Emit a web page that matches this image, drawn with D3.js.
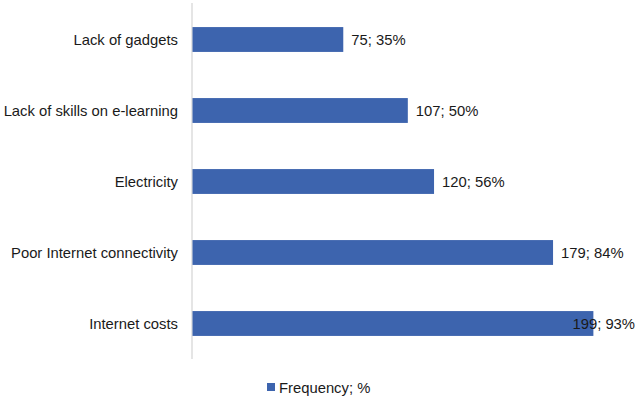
<!DOCTYPE html>
<html>
<head>
<meta charset="utf-8">
<script src="https://cdn.jsdelivr.net/npm/d3@7/dist/d3.min.js"></script>
<style>
  body { margin: 0; background: #fff; }
  svg { display: block; font-family: "Liberation Sans", Arial, sans-serif; }
</style>
</head>
<body>
<svg id="chart" width="639" height="400"></svg>
<script>
const categories = ["Lack of gadgets", "Lack of skills on e-learning", "Electricity", "Poor Internet connectivity", "Internet costs"];
const frequency = [75, 107, 120, 179, 199];
const percent = [35, 50, 56, 84, 93];
const seriesName = "Frequency; %";

const W = 639, H = 400;
const svg = d3.select("#chart");
const barColor = "#3d64ae";
const textColor = "#1a1a1a";
const fs = "14.8px";

const x = d3.scaleLinear().domain([0, 220]).range([192, 192 + 220 * 2.017]);
const y = d3.scaleBand().domain(categories).range([4, 359]).paddingInner(0.65).paddingOuter(0.325);

// axis line
svg.append("line")
  .attr("x1", x(0)).attr("x2", x(0))
  .attr("y1", 3).attr("y2", 359)
  .attr("stroke", "#d4d4d4").attr("stroke-width", 1.2);

const data = categories.map((c, i) => ({ c, v: frequency[i], p: percent[i] }));

svg.selectAll("rect.bar").data(data).enter().append("rect")
  .attr("class", "bar")
  .attr("x", x(0) + 0.5)
  .attr("y", d => y(d.c))
  .attr("width", d => x(d.v) - x(0) - 0.5)
  .attr("height", y.bandwidth())
  .attr("fill", barColor);

// category labels
svg.selectAll("text.cat").data(data).enter().append("text")
  .attr("class", "cat")
  .attr("x", x(0) - 14)
  .attr("y", d => y(d.c) + y.bandwidth() / 2)
  .attr("dy", "0.36em")
  .attr("text-anchor", "end")
  .attr("font-size", fs)
  .attr("fill", textColor)
  .text(d => d.c);

// value labels
const vl = svg.selectAll("text.val").data(data).enter().append("text")
  .attr("class", "val")
  .attr("y", d => y(d.c) + y.bandwidth() / 2)
  .attr("dy", "0.36em")
  .attr("font-size", fs)
  .attr("fill", textColor)
  .text(d => d.v + "; " + d.p + "%");
vl.each(function(d) {
  const w = this.getComputedTextLength();
  let px = x(d.v) + 8;
  if (px + w > W - 4) px = W - 4 - w;
  d3.select(this).attr("x", px);
});

// legend
const lg = svg.append("g");
lg.append("rect").attr("x", 267).attr("y", 383).attr("width", 8).attr("height", 8).attr("fill", barColor);
lg.append("text").attr("x", 279).attr("y", 392.5)
  .attr("font-size", fs).attr("fill", textColor).text(seriesName);
</script>
</body>
</html>
